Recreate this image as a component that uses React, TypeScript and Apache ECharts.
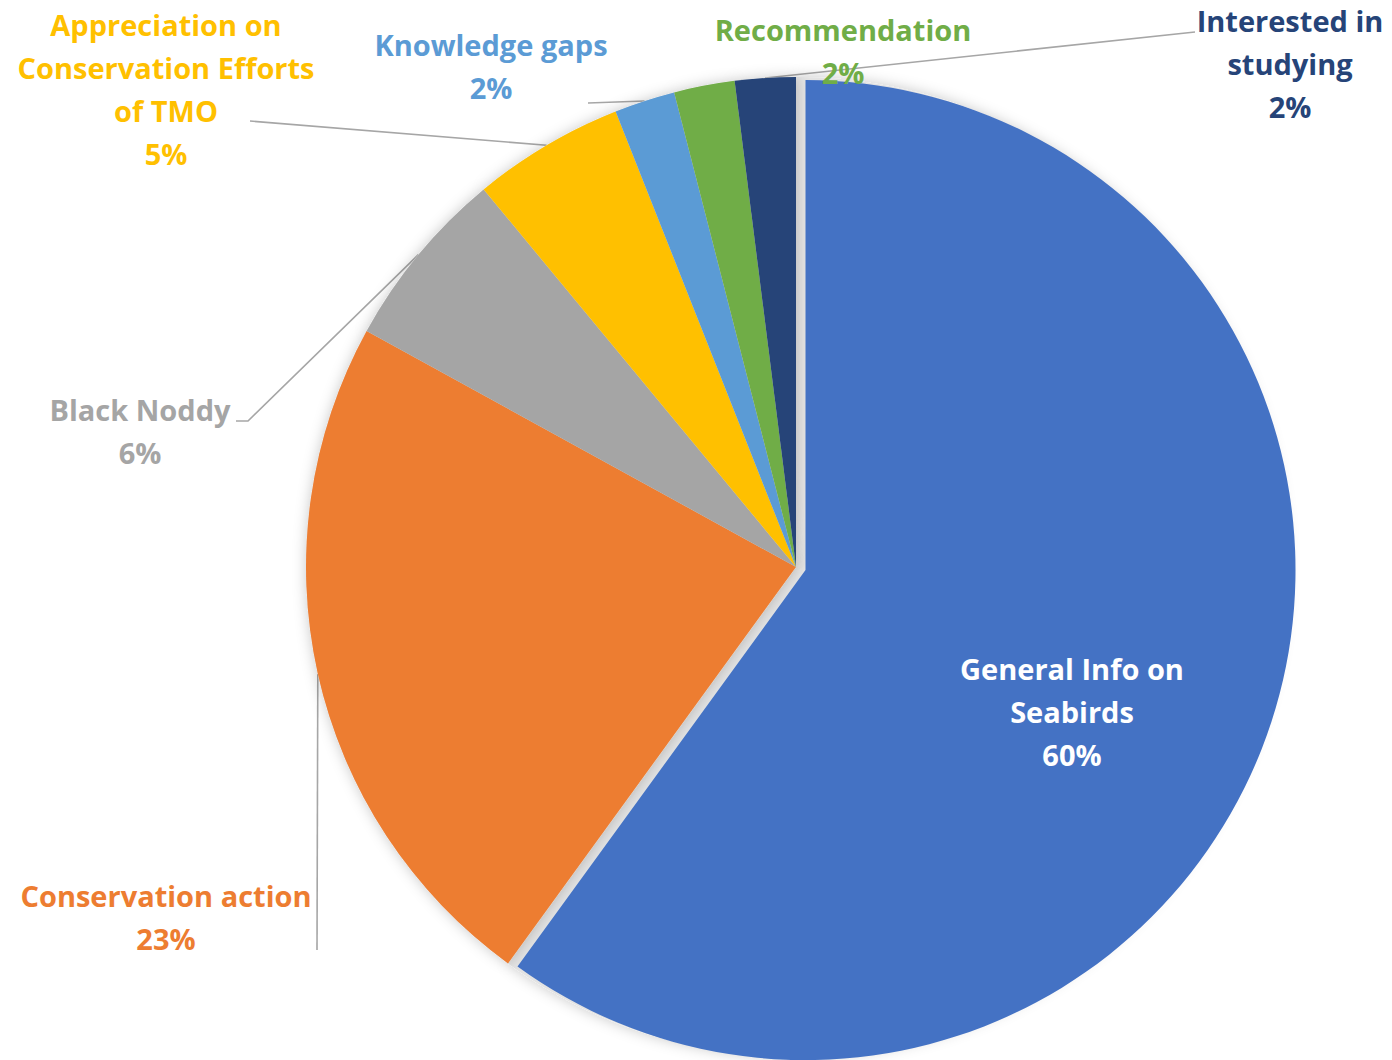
import React, { useEffect, useRef } from 'react';
import * as echarts from 'echarts';

// ---- Data ----
const categories = [
  'General Info on Seabirds',
  'Conservation action',
  'Black Noddy',
  'Appreciation on Conservation Efforts of TMO',
  'Knowledge gaps',
  'Recommendation',
  'Interested in studying',
];
const labelTexts = [
  'General Info on\nSeabirds',
  'Conservation action',
  'Black Noddy',
  'Appreciation on\nConservation Efforts\nof TMO',
  'Knowledge gaps',
  'Recommendation',
  'Interested in\nstudying',
];
const values = [60, 23, 6, 5, 2, 2, 2];

// ---- Styles / layout ----
const colors = ['#4472C4', '#ED7D31', '#A5A5A5', '#FFC000', '#5B9BD5', '#70AD47', '#264478'];
const labelColors = ['#FFFFFF', '#ED7D31', '#A5A5A5', '#FFC000', '#5B9BD5', '#70AD47', '#264478'];
const CX = 796;
const CY = 567;
const R = 490;
const labelPos: number[][] = [
  [1072, 711],
  [166, 917],
  [140, 431],
  [166, 89],
  [491, 66],
  [843, 51],
  [1290, 63],
];
const leaderTail: (number[][] | null)[] = [
  null,
  [[317, 950]],
  [[248, 421], [236, 421]],
  [[250, 121]],
  [[588, 103]],
  null,
  [[1195, 32]],
];

function midAnchor(i: number): number[] {
  const total = values.reduce((a, b) => a + b, 0);
  let start = 0;
  for (let k = 0; k < i; k++) start += values[k];
  const mid = ((start + values[i] / 2) / total) * Math.PI * 2;
  return [CX + R * Math.sin(mid), CY - R * Math.cos(mid)];
}

export default function App() {
  const ref = useRef<HTMLDivElement>(null);
  useEffect(() => {
    if (!ref.current) return;
    const chart = echarts.init(ref.current, undefined, { renderer: 'svg' });
    const font = { fontFamily: 'Open Sans', fontWeight: 'bold' as const, fontSize: 29, lineHeight: 43 };
    const base = {
      type: 'pie',
      center: [CX, CY],
      radius: R,
      startAngle: 90,
      clockwise: true,
      avoidLabelOverlap: false,
      emphasis: { disabled: true },
    };
    chart.setOption({
      animation: false,
      backgroundColor: '#ffffff',
      series: [
        {
          ...base,
          silent: true,
          selectedMode: false,
          label: { show: false },
          labelLine: { show: false },
          itemStyle: {
            color: '#e3e3e3',
            shadowBlur: 14,
            shadowColor: 'rgba(0,0,0,0.22)',
          },
          data: values.map((v, i) => ({ name: categories[i], value: v })),
        },
        {
          ...base,
          selectedMode: 'single',
          selectedOffset: 10,
          select: { itemStyle: { color: colors[0] } },
          label: { show: false },
          labelLine: { show: false },
          data: values.map((v, i) => ({
            name: categories[i],
            value: v,
            selected: i === 0,
            itemStyle: { color: colors[i] },
          })),
        },
        {
          ...base,
          silent: true,
          selectedMode: false,
          itemStyle: { color: 'rgba(0,0,0,0)' },
          label: {
            show: true,
            position: 'outside',
            ...font,
            formatter: (p: any) => `${labelTexts[p.dataIndex]}\n${Math.round(p.percent)}%`,
          },
          labelLine: {
            show: true,
            lineStyle: { color: '#A6A6A6', width: 1.6 },
          },
          labelLayout: (p: any) => {
            const i = p.dataIndex;
            const out: any = {
              x: labelPos[i][0],
              y: labelPos[i][1],
              align: 'center',
              verticalAlign: 'middle',
            };
            const tail = leaderTail[i];
            if (tail) out.labelLinePoints = [midAnchor(i), ...tail];
            return out;
          },
          data: values.map((v, i) => ({
            name: categories[i],
            value: v,
            label: { color: labelColors[i] },
            labelLine: { show: !!leaderTail[i] },
          })),
        },
      ],
    });
    return () => chart.dispose();
  }, []);
  return (
    <div
      ref={ref}
      style={{ position: 'fixed', left: 0, top: 0, width: 1392, height: 1060, background: '#fff' }}
    />
  );
}
